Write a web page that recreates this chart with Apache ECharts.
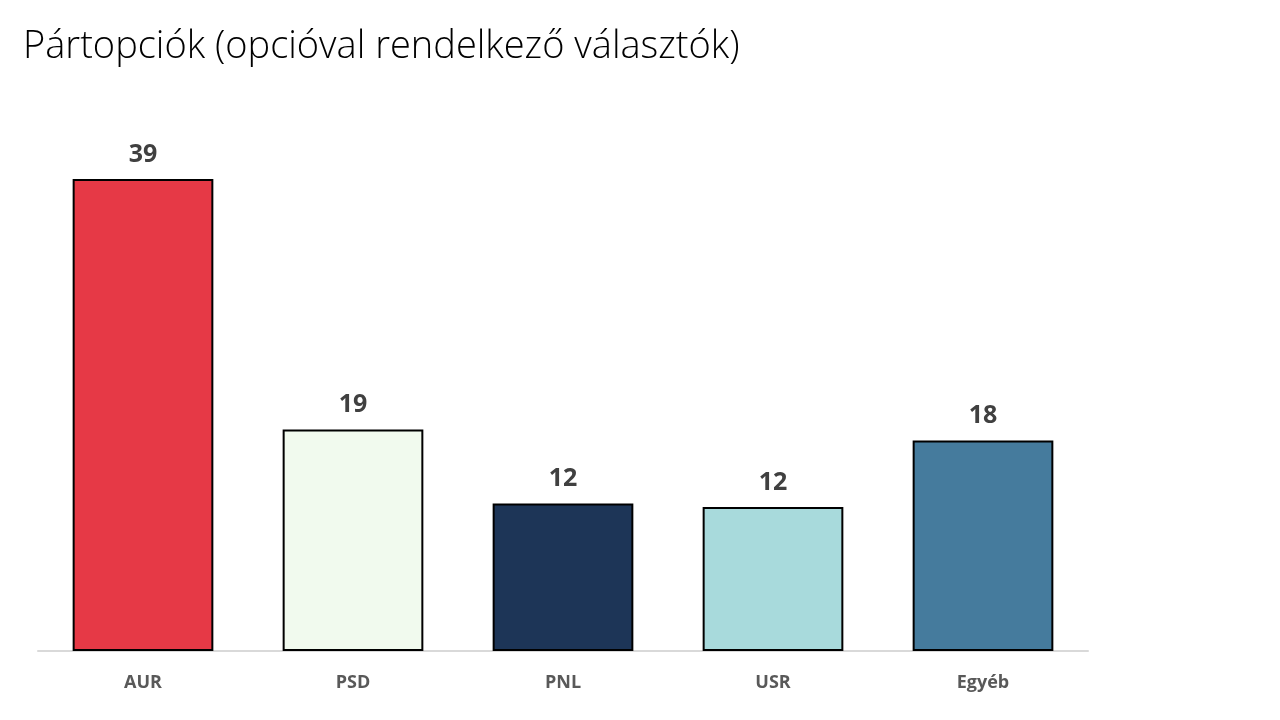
<!DOCTYPE html>
<html><head><meta charset="utf-8">
<script src="https://cdn.jsdelivr.net/npm/echarts@6/dist/echarts.min.js"></script>
<style>html,body{margin:0;padding:0;background:#fff}#c{width:1280px;height:720px}</style>
</head><body><div id="c"></div>
<script>
const categories = ['AUR', 'PSD', 'PNL', 'USR', 'Egyéb'];
const values = [39.0, 18.3, 12.2, 11.9, 17.4];
const valueLabels = ['39', '19', '12', '12', '18'];
const colors = ['#E63946', '#F1FAEE', '#1D3557', '#A8DADC', '#457B9D'];
const titleText = 'Pártopciók (opcióval rendelkező választók)';

const chart = echarts.init(document.getElementById('c'));
chart.setOption({
  animation: false,
  backgroundColor: '#ffffff',
  title: {
    text: titleText, left: 18, top: 23,
    textStyle: { fontFamily: 'Open Sans', fontWeight: 300, fontSize: 38, color: '#000000' }
  },
  grid: { left: 38, right: 192, top: 167, bottom: 69 },
  xAxis: {
    type: 'category', data: categories,
    axisLine: { lineStyle: { color: '#D9D9D9', width: 2 } },
    axisTick: { show: false },
    axisLabel: { margin: 23, fontFamily: 'Open Sans', fontWeight: 'bold', fontSize: 18, color: '#595959' }
  },
  yAxis: { type: 'value', min: 0, max: 40, show: false, splitLine: { show: false } },
  series: [{
    type: 'bar', barWidth: '67%',
    data: values.map((v, i) => ({ value: v, itemStyle: { color: colors[i] } })),
    itemStyle: { borderColor: '#000000', borderWidth: 2 },
    label: {
      show: true, position: 'top', distance: 12,
      formatter: p => valueLabels[p.dataIndex],
      fontFamily: 'Open Sans', fontWeight: 'bold', fontSize: 25, color: '#404040'
    }
  }]
});
</script></body></html>
